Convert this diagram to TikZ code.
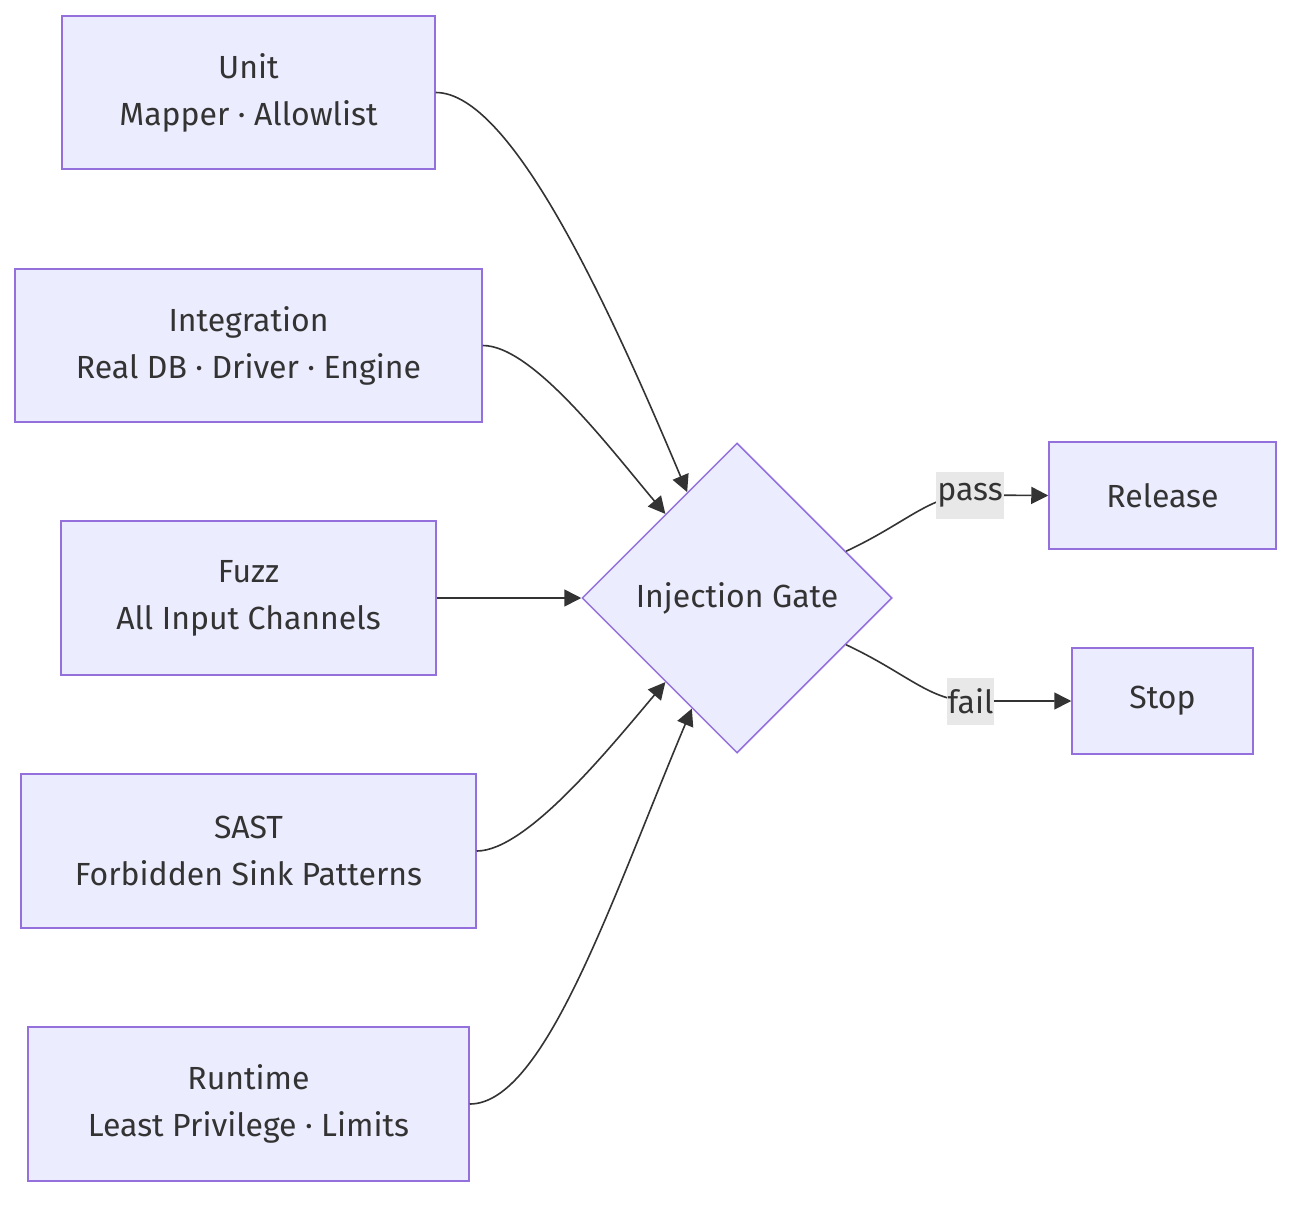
\documentclass[tikz,border=0pt]{standalone}
\usepackage{fontspec}
\setmainfont{Fira Sans}
\usetikzlibrary{shapes.geometric,arrows.meta,calc}
\definecolor{nodefill}{HTML}{ECECFF}
\definecolor{nodeline}{HTML}{9370DB}
\definecolor{txt}{HTML}{333333}
\definecolor{lblbg}{HTML}{E8E8E8}
\begin{document}
\begin{tikzpicture}[x=1pt,y=-1pt,
  box/.style={draw=nodeline,fill=nodefill,line width=1.5pt,text=txt,align=center,inner sep=0pt,font=\fontsize{32}{47}\selectfont},
  gatebox/.style={diamond,draw=nodeline,fill=nodefill,line width=1.5pt,text=txt,inner sep=0pt,minimum width=310pt,minimum height=310pt,font=\fontsize{32}{47}\selectfont},
  conn/.style={draw=txt,line width=1.6pt,-{Triangle[length=17pt,width=17pt]}},
  lbl/.style={fill=lblbg,text=txt,inner xsep=1pt,inner ysep=0pt,minimum height=47pt,font=\fontsize{32}{38}\selectfont}]
\useasboundingbox (0,0) rectangle (1308,1212);
\node[box,minimum width=373pt,minimum height=153pt] (unit) at (248.5,92.5) {Unit\\Mapper · Allowlist};
\node[box,minimum width=467pt,minimum height=153pt] (integ) at (248.5,345.5) {Integration\\Real DB · Driver · Engine};
\node[box,minimum width=375pt,minimum height=154pt] (fuzz) at (248.5,598) {Fuzz\\All Input Channels};
\node[box,minimum width=455pt,minimum height=154pt] (sast) at (248.5,851) {SAST\\Forbidden Sink Patterns};
\node[box,minimum width=441pt,minimum height=154pt] (runtime) at (248.5,1104) {Runtime\\Least Privilege · Limits};
\node[gatebox] (gate) at (737,598) {Injection Gate};
\node[box,minimum width=227pt,minimum height=107pt] (release) at (1162.5,495.5) {Release};
\node[box,minimum width=181pt,minimum height=106pt] (stop) at (1162.5,701) {Stop};
\coordinate (g1) at ($(gate.west)!0.68!(gate.north)$);
\coordinate (g2) at ($(gate.west)!0.54!(gate.north)$);
\coordinate (g4) at ($(gate.west)!0.54!(gate.south)$);
\coordinate (g5) at ($(gate.west)!0.71!(gate.south)$);
\coordinate (gp) at ($(gate.north)!0.70!(gate.east)$);
\coordinate (gf) at ($(gate.south)!0.70!(gate.east)$);
\draw[conn] (unit.east) .. controls +(75,0) and +(-80,-190) .. (g1);
\draw[conn] (integ.east) .. controls +(50,0) and +(-55,-65) .. (g2);
\draw[conn] (fuzz.east) -- (gate.west);
\draw[conn] (sast.east) .. controls +(50,0) and +(-55,65) .. (g4);
\draw[conn] (runtime.east) .. controls +(75,0) and +(-80,190) .. (g5);
\draw[conn] (gp) .. controls +(60,-28) and +(-40,0) .. (970,495) -- (release.west);
\draw[conn] (gf) .. controls +(60,28) and +(-40,0) .. (970,701) -- (stop.west);
\node[lbl] (passl) at (970,495.5) {pass};
\node[lbl] (faill) at (970.5,701) {fail};
\end{tikzpicture}
\end{document}
